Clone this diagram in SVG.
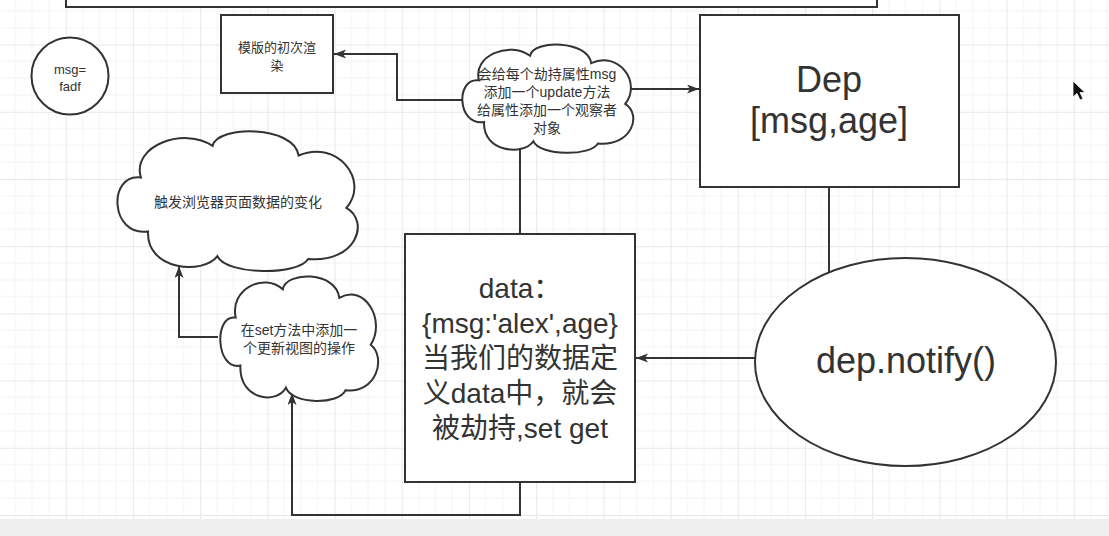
<svg xmlns="http://www.w3.org/2000/svg" width="1109" height="536" viewBox="0 0 1109 536">
<style>
.shape{fill:#ffffff;stroke:#333333;stroke-width:2}
.conn{fill:none;stroke:#333333;stroke-width:2}
.t{font-family:"Liberation Sans","Noto Sans CJK SC",sans-serif;fill:#333333;text-anchor:middle}
.s13{font-size:13px}
.s14{font-size:14px}
.s28{font-size:28px}
.s36{font-size:36px}
</style>
<defs>
<pattern id="grid" patternUnits="userSpaceOnUse" x="65.7" y="44.6" width="67.2" height="67.2">
<path d="M0,16.8H67.2M0,33.6H67.2M0,50.4H67.2M16.8,0V67.2M33.6,0V67.2M50.4,0V67.2" stroke="#f4f4f4" stroke-width="1" fill="none"/>
<path d="M0,0.5H67.2M0.5,0V67.2" stroke="#e9e9e9" stroke-width="1.2" fill="none"/>
</pattern>
<marker id="arr" markerUnits="userSpaceOnUse" markerWidth="14" markerHeight="10" refX="12" refY="4.5" orient="auto">
<path d="M0,0 L12,4.5 L0,9 L3,4.5 Z" fill="#333333"/>
</marker>
</defs>
<rect x="0" y="0" width="1109" height="519" fill="#ffffff"/>
<rect x="0" y="0" width="1109" height="519" fill="url(#grid)"/>
<rect x="0" y="519" width="1109" height="17" fill="#efefef"/>

<g id="connectors">
<path class="conn" d="M470,100 H397 V54 H334" marker-end="url(#arr)"/>
<path class="conn" d="M620,89 H699" marker-end="url(#arr)"/>
<path class="conn" d="M520,234 V140"/>
<path class="conn" d="M829,187 V272"/>
<path class="conn" d="M755,358 H636" marker-end="url(#arr)"/>
<path class="conn" d="M520,482 V515 H292 V393" marker-end="url(#arr)"/>
<path class="conn" d="M218,337 H179 V266" marker-end="url(#arr)"/>
</g>

<g id="top-box">
<rect class="shape" x="66" y="-10" width="811" height="17" stroke-width="2.5"/>
</g>

<g id="msg-circle">
<circle class="shape" cx="70" cy="76" r="38.5"/>
<text class="t s13" x="70" y="74">msg=</text>
<text class="t s13" x="70" y="91">fadf</text>
</g>

<g id="render-box">
<rect class="shape" x="221" y="15" width="112" height="78"/>
<text class="t s13" x="277" y="52">模版的初次渲</text>
<text class="t s13" x="277" y="70">染</text>
</g>

<g id="observer-cloud">
<path class="shape" d="M484.1,122 C456.9,126.3 455.2,77.1 479,80.3 C472.2,55.7 509.6,40.7 530,55.7 C533.4,39.7 587.8,39.7 591.2,63.2 C618.4,50.4 642.2,82.5 625.2,103.9 C642.2,114.6 632,146.7 598,143.4 C591.2,156.3 540.2,156.3 533.4,141.3 C523.2,156.3 482.4,152 484.1,122 Z"/>
<text class="t s14" x="547" y="79">会给每个劫持属性msg</text>
<text class="t s14" x="547" y="97">添加一个update方法</text>
<text class="t s14" x="547" y="115">给属性添加一个观察者</text>
<text class="t s14" x="547" y="133">对象</text>
</g>

<g id="dep-box">
<rect class="shape" x="700" y="15" width="259" height="172"/>
<text class="t s36" x="829" y="92">Dep</text>
<text class="t s36" x="829" y="133">[msg,age]</text>
</g>

<g id="browser-cloud">
<path class="shape" d="M148.1,231.4 C109.8,236.9 107.4,173.4 140.9,177.5 C131.3,145.8 183.9,126.5 212.6,145.8 C217.4,125.1 293.9,125.1 298.6,155.5 C336.9,138.9 370.3,180.3 346.4,207.9 C370.3,221.7 356,263.1 308.2,259 C298.6,275.5 226.9,275.5 217.4,256.2 C203,275.5 145.7,270 148.1,231.4 Z"/>
<text class="t s14" x="238" y="207">触发浏览器页面数据的变化</text>
</g>

<g id="update-cloud">
<path class="shape" d="M240.4,365.6 C215.3,370.5 213.7,313.9 235.7,317.6 C229.4,289.3 264,272.1 282.8,289.3 C285.9,270.9 336.2,270.9 339.3,297.9 C364.4,283.2 386.4,320.1 370.7,344.7 C386.4,357 377,393.9 345.6,390.2 C339.3,404.9 292.2,404.9 285.9,387.7 C276.5,404.9 238.8,400 240.4,365.6 Z"/>
<text class="t s14" x="299" y="335">在set方法中添加一</text>
<text class="t s14" x="299" y="353">个更新视图的操作</text>
</g>

<g id="data-box">
<rect class="shape" x="405" y="234" width="230" height="248"/>
<text class="t s28" x="520" y="298">data：</text>
<text class="t s28" x="520" y="333">{msg:'alex',age}</text>
<text class="t s28" x="520" y="368">当我们的数据定</text>
<text class="t s28" x="520" y="403">义data中，就会</text>
<text class="t s28" x="520" y="438">被劫持,set get</text>
</g>

<g id="notify-ellipse">
<ellipse class="shape" cx="905.5" cy="362" rx="150.5" ry="104"/>
<text class="t s36" x="906" y="373">dep.notify()</text>
</g>

<path d="M1073,81 L1073,97 L1077,93.5 L1080,100 L1083,98.7 L1080,92.5 L1085,92.5 Z" fill="#111111" stroke="#ffffff" stroke-width="0.8"/>
</svg>
